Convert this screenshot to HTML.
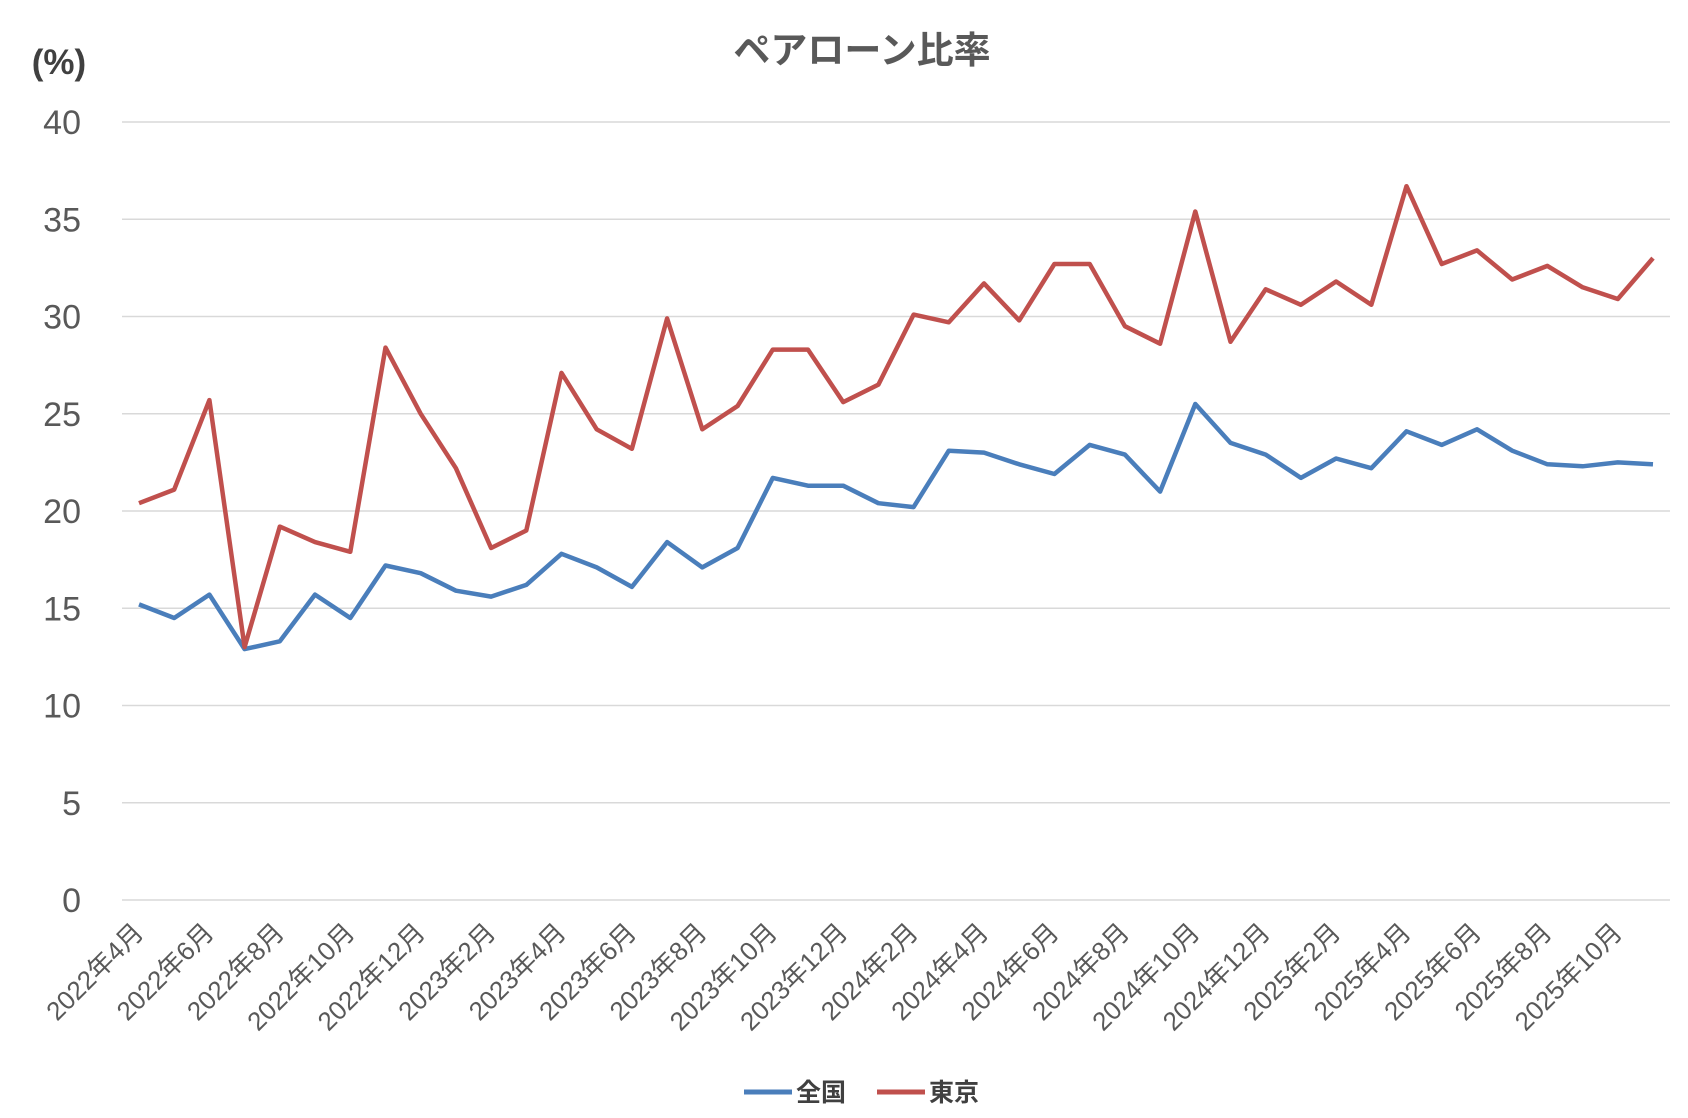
<!DOCTYPE html>
<html><head><meta charset="utf-8"><style>
body{margin:0;background:#fff;}
svg{display:block;font-family:"Liberation Sans","Noto Sans CJK JP",sans-serif;}
</style></head><body>
<svg id="c" width="1688" height="1118" viewBox="0 0 1688 1118" xmlns="http://www.w3.org/2000/svg">
<rect width="1688" height="1118" fill="#fff"/>
<text x="862" y="63" font-size="37" font-weight="bold" fill="#595959" text-anchor="middle">ペアローン比率</text>
<text x="59" y="74" font-size="35" font-weight="bold" fill="#404040" text-anchor="middle">(%)</text>
<g id="grid"></g><g id="lab"></g><g id="ser"></g>
<g font-size="25" font-weight="bold" fill="#404040">
<line x1="744" y1="1092" x2="792" y2="1092" stroke="#4a7ebb" stroke-width="5"/>
<text x="796" y="1101">全国</text>
<line x1="877" y1="1092" x2="925" y2="1092" stroke="#c0504d" stroke-width="5"/>
<text x="929" y="1101">東京</text>
</g>
</svg>
<script>
var NS="http://www.w3.org/2000/svg";
function el(t,a,p,txt){var e=document.createElementNS(NS,t);for(var k in a)e.setAttribute(k,a[k]);if(txt!=null)e.textContent=txt;document.getElementById(p).appendChild(e);return e;}
var y0=900,y40=122,x0=139,x1=1653;
function Y(v){return y0-(y0-y40)*v/40;}
function X(i){return x0+(x1-x0)*i/43;}
for(var v=0;v<=40;v+=5){var y=Y(v);el("line",{x1:122,x2:1670,y1:y,y2:y,stroke:"#d9d9d9","stroke-width":1.5},"grid");
el("text",{x:81,y:y+12,"font-size":34,fill:"#595959","text-anchor":"end"},"grid",String(v));}
var a=[15.2,14.5,15.7,12.9,13.3,15.7,14.5,17.2,16.8,15.9,15.6,16.2,17.8,17.1,16.1,18.4,17.1,18.1,21.7,21.3,21.3,20.4,20.2,23.1,23.0,22.4,21.9,23.4,22.9,21.0,25.5,23.5,22.9,21.7,22.7,22.2,24.1,23.4,24.2,23.1,22.4,22.3,22.5,22.4];
var b=[20.4,21.1,25.7,13.0,19.2,18.4,17.9,28.4,25.0,22.2,18.1,19.0,27.1,24.2,23.2,29.9,24.2,25.4,28.3,28.3,25.6,26.5,30.1,29.7,31.7,29.8,32.7,32.7,29.5,28.6,35.4,28.7,31.4,30.6,31.8,30.6,36.7,32.7,33.4,31.9,32.6,31.5,30.9,33.0];
function pts(d){return d.map(function(v,i){return X(i).toFixed(1)+","+Y(v).toFixed(1)}).join(" ");}
el("polyline",{points:pts(a),fill:"none",stroke:"#4a7ebb","stroke-width":4.5,"stroke-linejoin":"round"},"ser");
el("polyline",{points:pts(b),fill:"none",stroke:"#c0504d","stroke-width":4.5,"stroke-linejoin":"round"},"ser");
for(var i=0;i<44;i+=2){var yr=2022+Math.floor((i+3)/12),m=(i+3)%12+1;
var x=X(i)+6,y=934;
el("text",{x:x,y:y,"font-size":26,fill:"#595959","text-anchor":"end",transform:"rotate(-45 "+x+" "+y+")"},"lab",yr+"年"+m+"月");}
</script>
</body></html>
